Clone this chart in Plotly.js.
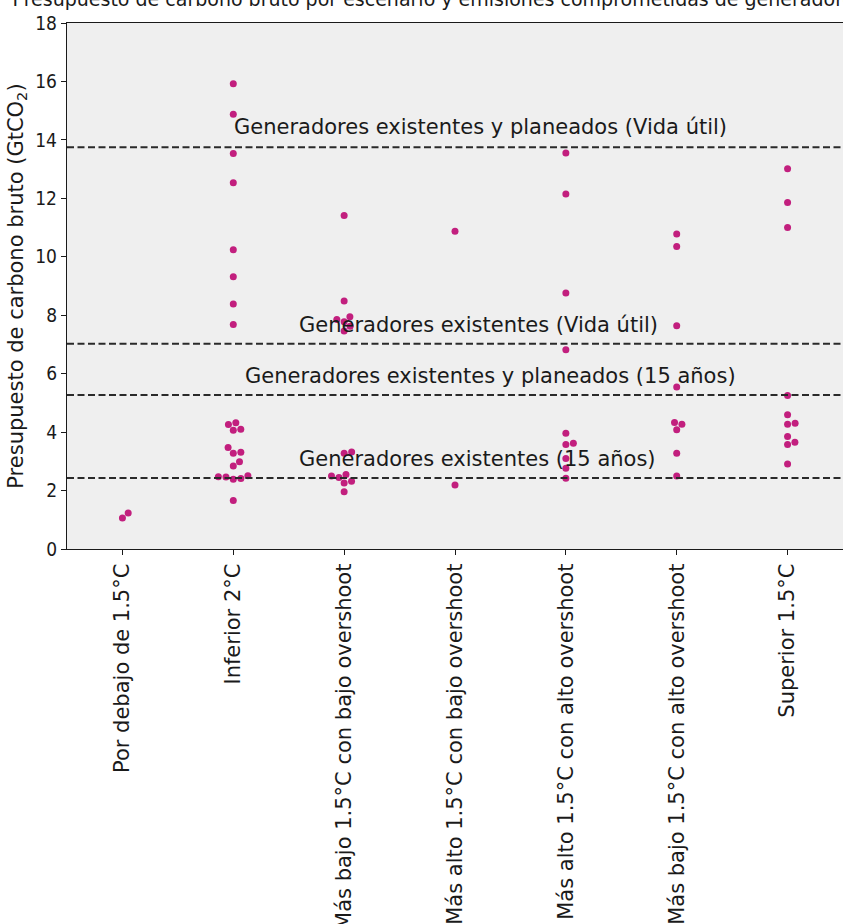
<!DOCTYPE html>
<html>
<head>
<meta charset="utf-8">
<script src="https://cdn.plot.ly/plotly-3.0.1.min.js"></script>
<style>html,body{margin:0;padding:0;background:#fff;}#chart{width:843px;height:924px;}</style>
</head>
<body>
<div id="chart"></div>
<script>
// ---- Data ----
const categories = [
  "Por debajo de 1.5°C",
  "Inferior 2°C",
  "Más bajo 1.5°C con bajo overshoot",
  "Más alto 1.5°C con bajo overshoot",
  "Más alto 1.5°C con alto overshoot",
  "Más bajo 1.5°C con alto overshoot",
  "Superior 1.5°C"
];
const porDebajo15 = [1.06, 1.23];
const inferior2 = [15.92, 14.88, 13.53, 12.53, 10.24, 9.32, 8.38, 7.68,
  4.32, 4.26, 4.10, 4.06, 3.47, 3.31, 3.28, 2.99, 2.84,
  2.51, 2.47, 2.46, 2.41, 2.39, 1.66];
const masBajoBajo = [11.41, 8.49, 7.95, 7.85, 7.78, 7.62, 7.46,
  3.32, 3.28, 2.55, 2.50, 2.45, 2.32, 2.26, 1.96];
const masAltoBajo = [10.87, 2.19];
const masAltoAlto = [13.55, 12.15, 8.76, 6.82, 3.96, 3.62, 3.58, 3.10, 2.76, 2.42];
const masBajoAlto = [10.78, 10.35, 7.64, 5.54, 4.33, 4.27, 4.08, 3.28, 2.50];
const superior15 = [13.01, 11.86, 11.00, 5.25, 4.59, 4.30, 4.27, 3.85, 3.65, 3.58, 2.91];
const seriesValues = [porDebajo15, inferior2, masBajoBajo, masAltoBajo, masAltoAlto, masBajoAlto, superior15];

const lineValues = [13.75, 7.02, 5.27, 2.43];
const lineLabels = [
  "Generadores existentes y planeados (Vida útil)",
  "Generadores existentes (Vida útil)",
  "Generadores existentes y planeados (15 años)",
  "Generadores existentes (15 años)"
];
const yTickVals = [0, 2, 4, 6, 8, 10, 12, 14, 16, 18];
const chartTitle = 'Presupuesto de carbono bruto por escenario y emisiones comprometidas de generadores';

// ---- Layout geometry ----
const W = 843, H = 924;
const M = {l: 67, r: 0, t: 23, b: 375};
const plotW = W - M.l - M.r, plotH = H - M.t - M.b;
const xRange = [-0.5, categories.length - 0.5];
const yRange = [0, 18];
const pxPerCat = plotW / (xRange[1] - xRange[0]);
const pxPerUnit = plotH / (yRange[1] - yRange[0]);
const markerSize = 7;

// Beeswarm placement (computed in pixel space)
function swarm(vals) {
  const d = markerSize + 0.6;
  const order = vals.map((v, i) => i).sort((a, b) => vals[a] - vals[b]);
  const placed = [];
  const off = new Array(vals.length).fill(0);
  order.forEach(i => {
    const py = vals[i] * pxPerUnit;
    const cands = [0];
    placed.forEach(p => {
      const dy = Math.abs(p.y - py);
      if (dy < d) {
        const dx = Math.sqrt(d * d - dy * dy);
        cands.push(p.x + dx, p.x - dx);
      }
    });
    cands.sort((a, b) => Math.abs(a) - Math.abs(b));
    let chosen = 0;
    for (const c of cands) {
      const ok = placed.every(p => Math.hypot(p.x - c, p.y - py) >= d - 1e-6);
      if (ok) { chosen = c; break; }
    }
    placed.push({x: chosen, y: py});
    off[i] = chosen / pxPerCat;
  });
  return off;
}

const xs = [], ys = [];
seriesValues.forEach((vals, ci) => {
  const off = swarm(vals);
  vals.forEach((v, i) => { xs.push(ci + off[i]); ys.push(v); });
});

const trace = {
  type: 'scatter', mode: 'markers', x: xs, y: ys,
  marker: {size: markerSize, color: '#c21f7e', line: {width: 0}},
  hoverinfo: 'y', showlegend: false, cliponaxis: false
};

const font = "DejaVu Sans, sans-serif";
const labelX = [3.23, 3.21, 3.32, 3.2];
const labelDY = [0.68, 0.65, 0.65, 0.65];

const shapes = lineValues.map(v => ({
  type: 'line', xref: 'paper', x0: 0, x1: 1, yref: 'y', y0: v, y1: v,
  line: {color: '#2a2a2a', width: 2, dash: '7px,3.5px'}, layer: 'above'
}));
const annotations = lineLabels.map((t, i) => ({
  text: t, xref: 'x', yref: 'y', x: labelX[i], y: lineValues[i] + labelDY[i],
  showarrow: false, xanchor: 'center', yanchor: 'middle',
  font: {family: font, size: 21, color: '#1a1a1a'}
}));

const layout = {
  width: W, height: H,
  margin: M,
  paper_bgcolor: '#ffffff', plot_bgcolor: '#efefef',
  font: {family: font, size: 20, color: '#1a1a1a'},
  // chart title, cut off at the top edge as in the reference
  title: {text: chartTitle, font: {family: font, size: 19, color: '#1a1a1a'},
          yref: 'paper', y: 1.0, yanchor: 'bottom', pad: {b: 17}, x: 0.52, xanchor: 'center'},
  xaxis: {
    range: xRange, tickvals: categories.map((c, i) => i), ticktext: categories,
    tickangle: -90, ticks: 'outside', ticklen: 5, tickcolor: '#1a1a1a',
    showline: true, linecolor: '#1a1a1a', linewidth: 1.2, mirror: true,
    showgrid: false, zeroline: false,
    tickfont: {family: font, size: 21, color: '#1a1a1a'}
  },
  yaxis: {
    range: yRange, tickvals: yTickVals, ticks: 'outside', ticklen: 5, tickcolor: '#1a1a1a',
    showline: true, linecolor: '#1a1a1a', linewidth: 1.2,
    showgrid: false, zeroline: false,
    tickfont: {family: "DejaVu Sans Condensed, DejaVu Sans, sans-serif", size: 19, color: '#1a1a1a'},
    title: {text: 'Presupuesto de carbono bruto (GtCO<sub>2</sub>)', font: {family: font, size: 21, color: '#1a1a1a'}, standoff: 6}
  },
  shapes: shapes,
  annotations: annotations
};

Plotly.newPlot('chart', [trace], layout, {displayModeBar: false, staticPlot: true});
</script>
</body>
</html>
